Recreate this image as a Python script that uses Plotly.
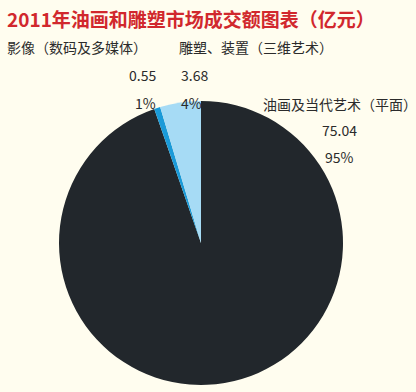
import plotly.graph_objects as go

categories = ["油画及当代艺术（平面）", "影像（数码及多媒体）", "雕塑、装置（三维艺术）"]
values = [75.04, 0.55, 3.68]
percents = ["95%", "1%", "4%"]
colors = ["#22272c", "#1a9ad8", "#a6dbf5"]
title = "2011年油画和雕塑市场成交额图表（亿元）"

W, H = 416, 392
cx, cy, r = 201, 243, 142

fig = go.Figure(go.Pie(
    labels=categories, values=values, sort=False, direction="clockwise", rotation=0,
    marker=dict(colors=colors, line=dict(width=0)), textinfo="none", hoverinfo="label+value",
    showlegend=False,
    domain=dict(x=[(cx - r) / W, (cx + r) / W], y=[(H - cy - r) / H, (H - cy + r) / H]),
))

font = dict(family="Noto Sans CJK SC, Noto Sans, sans-serif", size=14, color="#2b2b2b")

def ann(text, x, y, anchor="left", f=font):
    fig.add_annotation(text=text, x=x / W, y=1 - y / H, xref="paper", yref="paper",
                       xanchor=anchor, yanchor="middle", showarrow=False, font=f)

ann("<b>" + title + "</b>", 5, 18, f=dict(family="Noto Sans CJK SC, sans-serif", size=19, color="#d1282d"))
ann(categories[1], 5, 47)
ann(categories[2], 177, 47)
ann(f"{values[1]:.2f}", 158, 75, "right")
ann(f"{values[2]:.2f}", 179, 75)
ann(percents[1], 158, 103, "right")
ann(percents[2], 179, 103)
ann(categories[0], 261, 104)
ann(f"{values[0]:.2f}", 339, 130, "center")
ann(percents[0], 339, 157, "center")

fig.update_layout(width=W, height=H, margin=dict(l=0, r=0, t=0, b=0),
                  paper_bgcolor="#fffdef", plot_bgcolor="#fffdef")
fig.write_html("out.html")
